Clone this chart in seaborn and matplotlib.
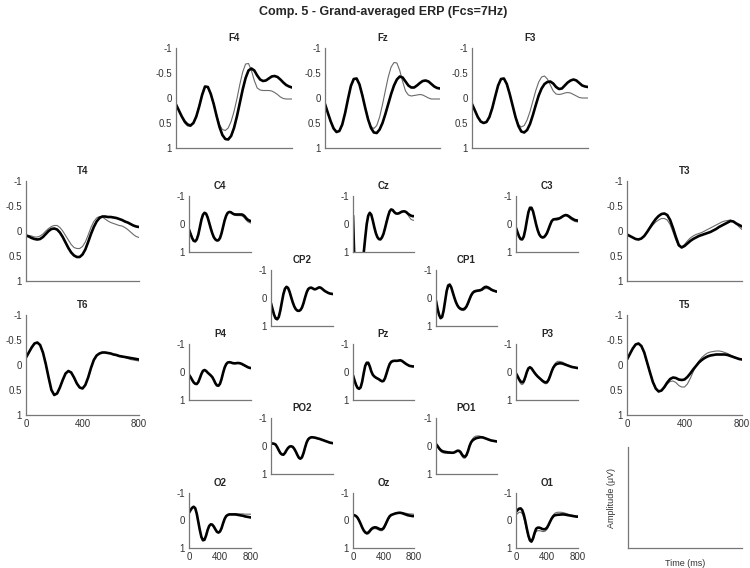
import numpy as np
import pandas as pd
import seaborn as sns
import matplotlib.pyplot as plt

# time axis (ms), one sample every 20 ms
times = list(range(0, 801, 20))

# amplitudes (thin = grey trace, thick = black trace)
f4_thin = [0.13, 0.25, 0.38, 0.5, 0.56, 0.57, 0.5, 0.36, 0.15, -0.07, -0.22, -0.21, -0.07, 0.12, 0.35, 0.53, 0.63, 0.65, 0.6, 0.47, 0.27,
           0.02, -0.27, -0.52, -0.68, -0.69, -0.55, -0.35, -0.2, -0.16, -0.15, -0.15, -0.15, -0.14, -0.11, -0.07, -0.02, 0.01, 0.02, 0.02, 0.02]
f4_thick = [0.13, 0.25, 0.37, 0.47, 0.53, 0.55, 0.5, 0.37, 0.17, -0.06, -0.23, -0.22, -0.08, 0.12, 0.36, 0.58, 0.74, 0.82, 0.83, 0.76, 0.6,
            0.37, 0.1, -0.17, -0.4, -0.55, -0.59, -0.55, -0.45, -0.37, -0.34, -0.35, -0.39, -0.43, -0.44, -0.42, -0.37, -0.31, -0.26, -0.23, -0.21]
fz_thin = [0.12, 0.3, 0.48, 0.62, 0.68, 0.66, 0.53, 0.3, 0.02, -0.24, -0.38, -0.38, -0.26, -0.05, 0.2, 0.42, 0.57, 0.61, 0.55, 0.38, 0.13,
           -0.15, -0.42, -0.62, -0.71, -0.7, -0.55, -0.33, -0.14, -0.06, -0.04, -0.05, -0.06, -0.07, -0.06, -0.03, 0.0, 0.02, 0.02, 0.02, 0.02]
fz_thick = [0.12, 0.3, 0.47, 0.61, 0.68, 0.66, 0.53, 0.3, 0.02, -0.24, -0.38, -0.39, -0.27, -0.05, 0.2, 0.43, 0.6, 0.69, 0.7, 0.63, 0.5,
            0.32, 0.12, -0.08, -0.25, -0.37, -0.43, -0.41, -0.33, -0.25, -0.21, -0.21, -0.25, -0.3, -0.34, -0.35, -0.33, -0.28, -0.23, -0.2, -0.19]
f3_thin = [0.12, 0.25, 0.38, 0.47, 0.5, 0.48, 0.38, 0.2, -0.03, -0.25, -0.38, -0.39, -0.28, -0.08, 0.15, 0.38, 0.53, 0.58, 0.55, 0.44, 0.27,
           0.06, -0.15, -0.32, -0.42, -0.44, -0.38, -0.26, -0.14, -0.08, -0.07, -0.08, -0.1, -0.11, -0.1, -0.07, -0.04, -0.01, 0.0, 0.0, 0.0]
f3_thick = [0.12, 0.25, 0.38, 0.47, 0.5, 0.48, 0.38, 0.2, -0.03, -0.25, -0.38, -0.39, -0.28, -0.08, 0.15, 0.38, 0.56, 0.67, 0.69, 0.64, 0.52,
            0.34, 0.14, -0.05, -0.19, -0.28, -0.32, -0.33, -0.29, -0.22, -0.18, -0.19, -0.25, -0.31, -0.35, -0.37, -0.35, -0.3, -0.25, -0.23, -0.22]

t4_thin = [0.08, 0.09, 0.1, 0.12, 0.12, 0.1, 0.06, 0.0, -0.05, -0.09, -0.11, -0.11, -0.07, 0.0, 0.09, 0.18, 0.27, 0.33, 0.35, 0.35, 0.31,
           0.22, 0.08, -0.07, -0.19, -0.26, -0.29, -0.28, -0.24, -0.2, -0.17, -0.15, -0.13, -0.11, -0.1, -0.07, -0.03, 0.02, 0.07, 0.11, 0.13]
t4_thick = [0.09, 0.11, 0.14, 0.16, 0.17, 0.16, 0.12, 0.06, 0.0, -0.04, -0.05, -0.03, 0.03, 0.12, 0.23, 0.34, 0.43, 0.49, 0.52, 0.52, 0.47,
            0.37, 0.22, 0.06, -0.08, -0.19, -0.26, -0.29, -0.29, -0.28, -0.28, -0.27, -0.26, -0.24, -0.22, -0.19, -0.17, -0.14, -0.11, -0.09, -0.08]
t3_thin = [0.07, 0.1, 0.13, 0.16, 0.17, 0.15, 0.1, 0.03, -0.05, -0.12, -0.18, -0.22, -0.25, -0.25, -0.22, -0.13, 0.02, 0.18, 0.31, 0.32, 0.27,
           0.2, 0.14, 0.1, 0.07, 0.05, 0.03, 0.0, -0.03, -0.06, -0.09, -0.12, -0.15, -0.18, -0.2, -0.21, -0.22, -0.19, -0.14, -0.08, -0.03]
t3_thick = [0.07, 0.1, 0.13, 0.16, 0.17, 0.15, 0.1, 0.02, -0.07, -0.16, -0.24, -0.3, -0.34, -0.35, -0.32, -0.22, -0.06, 0.12, 0.28, 0.33, 0.3,
            0.25, 0.2, 0.16, 0.13, 0.1, 0.08, 0.06, 0.04, 0.02, -0.01, -0.04, -0.08, -0.11, -0.14, -0.17, -0.2, -0.19, -0.15, -0.12, -0.09]
t6_thin = [-0.15, -0.25, -0.35, -0.43, -0.45, -0.4, -0.25, -0.02, 0.25, 0.5, 0.6, 0.57, 0.45, 0.3, 0.17, 0.12, 0.15, 0.25, 0.37, 0.45, 0.47,
           0.4, 0.25, 0.06, -0.1, -0.19, -0.23, -0.25, -0.25, -0.24, -0.23, -0.21, -0.19, -0.17, -0.16, -0.15, -0.13, -0.11, -0.1, -0.09, -0.08]
t6_thick = [-0.15, -0.25, -0.35, -0.43, -0.45, -0.4, -0.25, -0.02, 0.25, 0.5, 0.6, 0.57, 0.45, 0.3, 0.17, 0.12, 0.15, 0.25, 0.37, 0.45, 0.47,
            0.4, 0.25, 0.06, -0.1, -0.19, -0.23, -0.25, -0.25, -0.24, -0.23, -0.21, -0.2, -0.18, -0.17, -0.16, -0.15, -0.14, -0.13, -0.12, -0.11]
t5_thin = [-0.11, -0.22, -0.33, -0.41, -0.42, -0.37, -0.24, -0.04, 0.16, 0.35, 0.48, 0.53, 0.52, 0.46, 0.38, 0.33, 0.32, 0.35, 0.41, 0.44, 0.44,
           0.38, 0.27, 0.14, 0.02, -0.08, -0.15, -0.2, -0.24, -0.26, -0.27, -0.28, -0.28, -0.27, -0.25, -0.23, -0.2, -0.17, -0.14, -0.12, -0.11]
t5_thick = [-0.11, -0.22, -0.33, -0.41, -0.43, -0.38, -0.25, -0.05, 0.15, 0.34, 0.47, 0.53, 0.51, 0.44, 0.35, 0.28, 0.25, 0.26, 0.29, 0.3, 0.29,
            0.24, 0.17, 0.09, 0.02, -0.05, -0.1, -0.14, -0.17, -0.19, -0.2, -0.21, -0.21, -0.21, -0.21, -0.2, -0.18, -0.16, -0.14, -0.12, -0.11]

c4_thin = [0.2, 0.35, 0.5, 0.6, 0.62, 0.55, 0.38, 0.12, -0.15, -0.33, -0.4, -0.37, -0.24, -0.05, 0.15, 0.33, 0.47, 0.55, 0.59, 0.58, 0.5,
           0.33, 0.1, -0.13, -0.3, -0.4, -0.43, -0.41, -0.37, -0.33, -0.31, -0.3, -0.3, -0.3, -0.29, -0.26, -0.2, -0.13, -0.08, -0.05, -0.03]
c4_thick = [0.2, 0.35, 0.5, 0.6, 0.62, 0.55, 0.38, 0.12, -0.15, -0.33, -0.4, -0.37, -0.24, -0.05, 0.15, 0.33, 0.47, 0.55, 0.59, 0.58, 0.5,
            0.33, 0.1, -0.13, -0.3, -0.4, -0.43, -0.42, -0.38, -0.35, -0.34, -0.34, -0.34, -0.34, -0.34, -0.32, -0.27, -0.2, -0.15, -0.12, -0.1]
cz_thin = [-0.3, 1.5, 2.2, 2.5, 2.5, 2.2, 1.6, 1.05, 0.5, 0.0, -0.3, -0.4, -0.33, -0.12, 0.12, 0.33, 0.47, 0.54, 0.55, 0.48, 0.35,
           0.15, -0.07, -0.28, -0.45, -0.52, -0.5, -0.43, -0.38, -0.37, -0.38, -0.41, -0.44, -0.45, -0.45, -0.4, -0.33, -0.24, -0.17, -0.14, -0.13]
cz_thick = [-0.3, 1.5, 2.2, 2.5, 2.5, 2.2, 1.6, 1.05, 0.5, 0.0, -0.3, -0.4, -0.33, -0.12, 0.12, 0.33, 0.47, 0.54, 0.55, 0.48, 0.35,
            0.15, -0.07, -0.28, -0.45, -0.52, -0.5, -0.43, -0.38, -0.37, -0.38, -0.41, -0.44, -0.45, -0.45, -0.42, -0.37, -0.33, -0.3, -0.28, -0.28]
c3_thin = [0.14, 0.3, 0.45, 0.54, 0.55, 0.45, 0.2, -0.12, -0.4, -0.55, -0.55, -0.45, -0.22, 0.02, 0.22, 0.37, 0.46, 0.5, 0.49, 0.44, 0.36,
           0.22, 0.06, -0.08, -0.16, -0.2, -0.21, -0.22, -0.23, -0.25, -0.28, -0.3, -0.3, -0.28, -0.24, -0.19, -0.15, -0.12, -0.09, -0.08, -0.07]
c3_thick = [0.14, 0.3, 0.45, 0.54, 0.55, 0.45, 0.2, -0.12, -0.42, -0.58, -0.58, -0.45, -0.22, 0.02, 0.22, 0.37, 0.45, 0.48, 0.47, 0.41, 0.32,
            0.18, 0.03, -0.1, -0.16, -0.17, -0.17, -0.18, -0.2, -0.23, -0.27, -0.3, -0.32, -0.31, -0.28, -0.24, -0.2, -0.17, -0.14, -0.13, -0.12]
cp2_thin = [0.19, 0.4, 0.6, 0.73, 0.76, 0.68, 0.45, 0.15, -0.14, -0.33, -0.4, -0.36, -0.22, -0.03, 0.15, 0.3, 0.4, 0.46, 0.47, 0.44, 0.35,
            0.19, -0.01, -0.2, -0.32, -0.36, -0.36, -0.34, -0.31, -0.32, -0.35, -0.37, -0.37, -0.33, -0.28, -0.24, -0.21, -0.18, -0.16, -0.15, -0.14]
cp2_thick = [0.19, 0.4, 0.6, 0.73, 0.76, 0.68, 0.45, 0.15, -0.14, -0.33, -0.4, -0.36, -0.22, -0.03, 0.15, 0.3, 0.4, 0.45, 0.46, 0.43, 0.34,
             0.18, -0.02, -0.2, -0.32, -0.36, -0.37, -0.34, -0.31, -0.32, -0.35, -0.38, -0.37, -0.33, -0.28, -0.24, -0.21, -0.18, -0.16, -0.15, -0.14]
cp1_thin = [0.1, 0.38, 0.6, 0.72, 0.68, 0.45, 0.1, -0.25, -0.45, -0.48, -0.38, -0.2, -0.02, 0.14, 0.27, 0.37, 0.42, 0.44, 0.45, 0.42, 0.34,
            0.22, 0.08, -0.06, -0.15, -0.2, -0.22, -0.23, -0.24, -0.25, -0.27, -0.3, -0.33, -0.34, -0.33, -0.31, -0.28, -0.26, -0.24, -0.23, -0.22]
cp1_thick = [0.1, 0.38, 0.6, 0.72, 0.68, 0.45, 0.1, -0.25, -0.45, -0.48, -0.38, -0.2, -0.02, 0.14, 0.26, 0.34, 0.38, 0.4, 0.4, 0.37, 0.3,
             0.18, 0.04, -0.09, -0.18, -0.23, -0.25, -0.26, -0.27, -0.28, -0.3, -0.35, -0.39, -0.4, -0.38, -0.35, -0.31, -0.28, -0.26, -0.24, -0.23]

p4_thin = [0.1, 0.18, 0.28, 0.37, 0.42, 0.43, 0.36, 0.22, 0.07, -0.04, -0.07, -0.04, 0.02, 0.07, 0.12, 0.18, 0.28, 0.4, 0.48, 0.49, 0.42,
           0.25, 0.03, -0.16, -0.28, -0.34, -0.35, -0.34, -0.32, -0.31, -0.3, -0.31, -0.31, -0.3, -0.28, -0.25, -0.22, -0.19, -0.17, -0.15, -0.14]
p4_thick = [0.1, 0.18, 0.28, 0.37, 0.42, 0.43, 0.36, 0.22, 0.07, -0.04, -0.07, -0.04, 0.02, 0.07, 0.12, 0.18, 0.28, 0.4, 0.48, 0.49, 0.42,
            0.25, 0.03, -0.16, -0.28, -0.34, -0.35, -0.34, -0.32, -0.31, -0.31, -0.32, -0.32, -0.31, -0.29, -0.26, -0.23, -0.2, -0.17, -0.15, -0.14]
pz_thin = [0.12, 0.3, 0.45, 0.55, 0.58, 0.53, 0.34, 0.05, -0.21, -0.32, -0.32, -0.2, -0.02, 0.1, 0.17, 0.22, 0.25, 0.28, 0.32, 0.35, 0.33,
           0.23, 0.06, -0.12, -0.26, -0.34, -0.37, -0.38, -0.38, -0.39, -0.4, -0.4, -0.38, -0.34, -0.3, -0.27, -0.24, -0.21, -0.2, -0.19, -0.19]
pz_thick = [0.12, 0.3, 0.46, 0.57, 0.6, 0.55, 0.35, 0.05, -0.22, -0.33, -0.33, -0.2, -0.02, 0.1, 0.16, 0.2, 0.23, 0.26, 0.3, 0.33, 0.32,
            0.22, 0.05, -0.13, -0.28, -0.36, -0.39, -0.4, -0.4, -0.4, -0.41, -0.42, -0.4, -0.36, -0.32, -0.28, -0.25, -0.22, -0.21, -0.2, -0.2]
p3_thin = [0.05, 0.18, 0.32, 0.42, 0.45, 0.4, 0.22, 0.02, -0.12, -0.17, -0.13, -0.05, 0.03, 0.1, 0.16, 0.22, 0.28, 0.34, 0.39, 0.42, 0.41,
           0.32, 0.16, -0.02, -0.18, -0.29, -0.35, -0.38, -0.38, -0.37, -0.35, -0.32, -0.29, -0.26, -0.23, -0.21, -0.19, -0.17, -0.16, -0.15, -0.14]
p3_thick = [0.05, 0.15, 0.26, 0.34, 0.37, 0.33, 0.18, 0.0, -0.13, -0.17, -0.13, -0.05, 0.03, 0.1, 0.16, 0.21, 0.26, 0.31, 0.35, 0.37, 0.36,
            0.28, 0.14, -0.02, -0.15, -0.23, -0.28, -0.3, -0.31, -0.31, -0.3, -0.28, -0.26, -0.24, -0.22, -0.2, -0.18, -0.17, -0.16, -0.15, -0.14]
po2_thin = [-0.08, -0.09, -0.08, -0.05, 0.04, 0.15, 0.25, 0.31, 0.33, 0.27, 0.16, 0.07, 0.02, 0.01, 0.03, 0.1, 0.2, 0.33, 0.45, 0.48, 0.43,
            0.26, 0.05, -0.13, -0.24, -0.29, -0.31, -0.31, -0.3, -0.29, -0.27, -0.26, -0.24, -0.22, -0.2, -0.18, -0.16, -0.14, -0.12, -0.11, -0.1]
po2_thick = [-0.08, -0.09, -0.08, -0.05, 0.04, 0.15, 0.25, 0.3, 0.31, 0.25, 0.15, 0.07, 0.02, 0.01, 0.03, 0.1, 0.2, 0.32, 0.42, 0.45, 0.4,
             0.25, 0.05, -0.13, -0.24, -0.29, -0.31, -0.31, -0.3, -0.29, -0.27, -0.26, -0.24, -0.22, -0.2, -0.18, -0.16, -0.14, -0.12, -0.11, -0.1]
po1_thin = [-0.07, 0.03, 0.12, 0.19, 0.23, 0.25, 0.26, 0.26, 0.26, 0.26, 0.26, 0.25, 0.23, 0.2, 0.19, 0.2, 0.26, 0.36, 0.43, 0.44, 0.37,
            0.2, 0.0, -0.16, -0.26, -0.32, -0.35, -0.36, -0.36, -0.35, -0.33, -0.31, -0.29, -0.27, -0.24, -0.22, -0.2, -0.19, -0.18, -0.17, -0.16]
po1_thick = [-0.07, 0.0, 0.08, 0.14, 0.18, 0.2, 0.21, 0.22, 0.23, 0.23, 0.24, 0.24, 0.23, 0.2, 0.17, 0.17, 0.21, 0.3, 0.37, 0.38, 0.32,
             0.18, 0.0, -0.13, -0.2, -0.24, -0.27, -0.29, -0.3, -0.31, -0.31, -0.3, -0.28, -0.26, -0.24, -0.22, -0.2, -0.19, -0.18, -0.17, -0.16]

o2_thin = [-0.28, -0.38, -0.46, -0.5, -0.45, -0.25, 0.05, 0.35, 0.6, 0.72, 0.7, 0.55, 0.35, 0.2, 0.14, 0.15, 0.22, 0.32, 0.41, 0.44, 0.4,
           0.28, 0.1, -0.08, -0.18, -0.22, -0.24, -0.24, -0.25, -0.25, -0.25, -0.24, -0.24, -0.24, -0.24, -0.24, -0.23, -0.23, -0.23, -0.23, -0.23]
o2_thick = [-0.28, -0.38, -0.46, -0.5, -0.45, -0.25, 0.05, 0.35, 0.6, 0.72, 0.7, 0.55, 0.35, 0.2, 0.14, 0.15, 0.22, 0.32, 0.41, 0.44, 0.4,
            0.28, 0.1, -0.06, -0.16, -0.2, -0.22, -0.22, -0.22, -0.22, -0.22, -0.21, -0.2, -0.19, -0.18, -0.17, -0.15, -0.14, -0.13, -0.12, -0.11]
oz_thin = [-0.2, -0.19, -0.17, -0.12, -0.02, 0.1, 0.24, 0.37, 0.46, 0.5, 0.49, 0.43, 0.36, 0.31, 0.3, 0.3, 0.32, 0.35, 0.37, 0.37, 0.33,
           0.23, 0.1, -0.03, -0.12, -0.18, -0.22, -0.25, -0.27, -0.28, -0.29, -0.29, -0.29, -0.28, -0.27, -0.26, -0.25, -0.24, -0.24, -0.23, -0.23]
oz_thick = [-0.2, -0.19, -0.16, -0.1, 0.0, 0.12, 0.25, 0.36, 0.43, 0.46, 0.44, 0.38, 0.31, 0.27, 0.25, 0.25, 0.27, 0.3, 0.32, 0.32, 0.28,
            0.18, 0.06, -0.06, -0.15, -0.2, -0.22, -0.24, -0.26, -0.27, -0.28, -0.28, -0.27, -0.25, -0.23, -0.21, -0.19, -0.18, -0.17, -0.16, -0.16]
o1_thin = [-0.2, -0.25, -0.3, -0.3, -0.25, -0.1, 0.12, 0.38, 0.62, 0.77, 0.8, 0.7, 0.52, 0.4, 0.37, 0.37, 0.38, 0.4, 0.4, 0.38, 0.32,
           0.2, 0.04, -0.1, -0.2, -0.26, -0.29, -0.3, -0.3, -0.3, -0.29, -0.28, -0.26, -0.24, -0.22, -0.2, -0.19, -0.18, -0.17, -0.16, -0.16]
o1_thick = [-0.32, -0.38, -0.43, -0.44, -0.38, -0.22, 0.02, 0.3, 0.55, 0.72, 0.76, 0.65, 0.45, 0.3, 0.26, 0.26, 0.28, 0.31, 0.32, 0.31, 0.26,
            0.16, 0.04, -0.07, -0.15, -0.19, -0.2, -0.21, -0.21, -0.22, -0.22, -0.22, -0.21, -0.2, -0.19, -0.18, -0.17, -0.16, -0.15, -0.14, -0.14]

sns.set_theme(style="white")
plt.rcParams['font.family'] = ['Liberation Sans', 'DejaVu Sans']
plt.rcParams['axes.unicode_minus'] = False

W, H = 750, 568
fig = plt.figure(figsize=(7.5, 5.68), dpi=100)


def box(x0, x1, y0, y1):
    # pixel box -> figure fraction
    return [x0 / W, 1 - y1 / H, (x1 - x0) / W, (y1 - y0) / H]


def style_axes(ax, big, xlab):
    ax.set_xlim(0, 800)
    ax.set_ylim(1, -1)
    ax.set_xticks([0, 400, 800])
    ax.set_xticklabels(['0', '400', '800'] if xlab else [])
    if big:
        ax.set_yticks([-1, -0.5, 0, 0.5, 1])
        ax.set_yticklabels(['-1', '-0.5', '0', '0.5', '1'])
    else:
        ax.set_yticks([-1, 0, 1])
        ax.set_yticklabels(['-1', '0', '1'])
    for s in ['top', 'right']:
        ax.spines[s].set_visible(False)
    for s in ['left', 'bottom']:
        ax.spines[s].set_color('#777777')
        ax.spines[s].set_linewidth(0.9)
    ax.tick_params(direction='in', length=2.5, width=0.8, color='#777777',
                   labelcolor='#333333', labelsize=7, pad=3)
    ax.set_xlabel('')
    ax.set_ylabel('')


# name, thin, thick, pixel box (x0, x1, ytop, ybottom), big axes, x tick labels
panels = [
    ("F4", f4_thin, f4_thick, (176, 292, 48, 148), True, False),
    ("Fz", fz_thin, fz_thick, (325, 440, 48, 148), True, False),
    ("F3", f3_thin, f3_thick, (472, 588, 48, 148), True, False),
    ("T4", t4_thin, t4_thick, (26, 139, 181, 281), True, False),
    ("T3", t3_thin, t3_thick, (627, 742, 181, 281), True, False),
    ("T6", t6_thin, t6_thick, (26, 139, 315, 415), True, True),
    ("T5", t5_thin, t5_thick, (627, 742, 315, 415), True, True),
    ("C4", c4_thin, c4_thick, (189, 251, 196, 252), False, False),
    ("Cz", cz_thin, cz_thick, (353, 414, 196, 252), False, False),
    ("C3", c3_thin, c3_thick, (516, 578, 196, 252), False, False),
    ("CP2", cp2_thin, cp2_thick, (271, 333, 270, 326), False, False),
    ("CP1", cp1_thin, cp1_thick, (436, 497, 270, 326), False, False),
    ("P4", p4_thin, p4_thick, (189, 251, 344, 400), False, False),
    ("Pz", pz_thin, pz_thick, (353, 414, 344, 400), False, False),
    ("P3", p3_thin, p3_thick, (516, 578, 344, 400), False, False),
    ("PO2", po2_thin, po2_thick, (271, 333, 418, 474), False, False),
    ("PO1", po1_thin, po1_thick, (436, 497, 418, 474), False, False),
    ("O2", o2_thin, o2_thick, (189, 251, 493, 548), False, True),
    ("Oz", oz_thin, oz_thick, (353, 414, 493, 548), False, True),
    ("O1", o1_thin, o1_thick, (516, 578, 493, 548), False, True),
]

for name, thin, thick, px, big, xlab in panels:
    ax = fig.add_axes(box(*px))
    df = pd.DataFrame({"time": times, "thin": thin, "thick": thick})
    sns.lineplot(data=df, x="time", y="thin", ax=ax, color='#6a6a6a', linewidth=0.8)
    sns.lineplot(data=df, x="time", y="thick", ax=ax, color='black', linewidth=1.9)
    style_axes(ax, big, xlab)
    ax.set_title(name, fontsize=7, fontweight='bold', pad=5)

# empty axes carrying the axis labels
ax = fig.add_axes(box(628, 742, 447, 548))
style_axes(ax, True, False)
ax.set_yticklabels([])
ax.set_ylabel('Amplitude (\u03bcV)', fontsize=6.5, color='#333333', labelpad=6)
ax.set_xlabel('Time (ms)', fontsize=6.5, color='#333333', labelpad=5)

fig.text(383 / W, 1 - 12 / H, 'Comp. 5 - Grand-averaged ERP (Fcs=7Hz)',
         ha='center', va='center', fontsize=9, fontweight='bold')

fig.savefig('out.png', dpi=100)
